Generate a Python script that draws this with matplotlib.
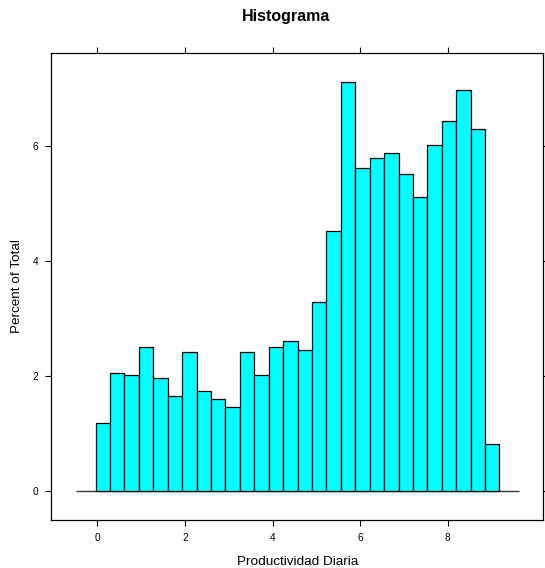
import numpy as np
import matplotlib
matplotlib.use("Agg")
import matplotlib.pyplot as plt

plt.rcParams['font.family'] = ['Liberation Sans', 'DejaVu Sans']

# histogram of daily productivity, percent of total per bin
bin_lo = -0.04
bin_hi = 9.18
percent = [1.19, 2.06, 2.01, 2.50, 1.97, 1.65, 2.42, 1.74, 1.60, 1.46,
           2.42, 2.01, 2.50, 2.60, 2.46, 3.29, 4.52, 7.11, 5.61, 5.79,
           5.88, 5.52, 5.11, 6.02, 6.43, 6.98, 6.30, 0.82]
xticks = [0, 2, 4, 6, 8]
yticks = [0, 2, 4, 6]

edges = np.linspace(bin_lo, bin_hi, len(percent) + 1)

fig = plt.figure(figsize=(5.45, 5.68), dpi=100)
ax = fig.add_axes([0.0941, 0.085, 0.9028, 0.821])

ax.hlines(0, -0.49, 9.63, color="#333333", lw=1.0, zorder=1)
ax.bar(edges[:-1], percent, width=np.diff(edges), align="edge",
       color="#00FFFF", edgecolor="black", linewidth=0.9, zorder=2)

ax.set_xlim(-1.05, 10.18)
ax.set_ylim(-0.5, 7.61)
ax.set_xticks(xticks)
ax.set_yticks(yticks)
ax.tick_params(direction="out", length=4.5, width=0.8, labelsize=7.3,
               top=True, right=True, labeltop=False, labelright=False, pad=5)
for s in ax.spines.values():
    s.set_linewidth(0.9)

ax.set_xlabel("Productividad Diaria", fontsize=9.7, labelpad=9.5)
ax.set_ylabel("Percent of Total", fontsize=9.7, labelpad=7)
fig.text(0.524, 0.985, "Histograma", fontsize=11.5, fontweight="bold",
         ha="center", va="top")

fig.savefig("out.png", dpi=100)
